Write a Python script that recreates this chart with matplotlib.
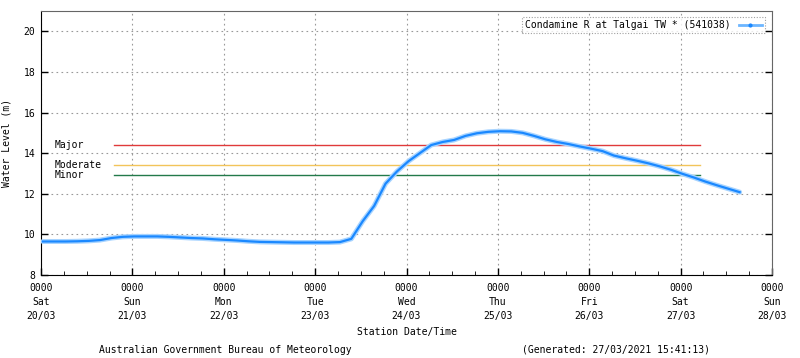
import numpy as np
import matplotlib.pyplot as plt
from matplotlib.lines import Line2D
import matplotlib.transforms as mtransforms

plt.rcParams['font.family'] = 'DejaVu Sans Mono'
FS = 7

# hours since Sat 20/03 0000, one reading every 3 hours
hours = np.arange(0.5, 184, 3)
level = [9.65, 9.65, 9.65, 9.66, 9.68, 9.72, 9.82, 9.88, 9.90, 9.90,
         9.90, 9.88, 9.85, 9.82, 9.80, 9.76, 9.73, 9.70, 9.66, 9.63,
         9.62, 9.61, 9.60, 9.60, 9.60, 9.60, 9.62, 9.78, 10.65, 11.40,
         12.50, 13.10, 13.60, 14.00, 14.40, 14.55, 14.65, 14.85, 14.98, 15.05,
         15.08, 15.07, 15.00, 14.85, 14.68, 14.55, 14.45, 14.33, 14.22, 14.10,
         13.88, 13.75, 13.63, 13.50, 13.35, 13.18, 12.98, 12.80, 12.60, 12.42,
         12.25, 12.08]

day_ticks = ['0000\nSat\n20/03', '0000\nSun\n21/03', '0000\nMon\n22/03',
             '0000\nTue\n23/03', '0000\nWed\n24/03', '0000\nThu\n25/03',
             '0000\nFri\n26/03', '0000\nSat\n27/03', '0000\nSun\n28/03']

flood_names = ['Major', 'Moderate', 'Minor']
flood_levels = [14.4, 13.4, 12.9]
flood_colors = ['#e03a3a', '#f2c45a', '#237a4a']
flood_start, flood_end = 19.2, 173.0

fig = plt.figure(figsize=(8, 3.58), dpi=100)
ax = fig.add_axes([41/800, 83/358, 731/800, 264/358])

trans = mtransforms.blended_transform_factory(ax.transAxes, ax.transData)
for name, lv, col in zip(flood_names, flood_levels, flood_colors):
    ax.plot([flood_start, flood_end], [lv, lv], color=col, lw=1, zorder=2)
    ax.text(0.019, lv, name, transform=trans, va='center', ha='left', fontsize=FS)

ax.plot(hours, level, color='#a8d4ff', lw=3.6, solid_capstyle='round',
        solid_joinstyle='round', zorder=3)
ax.plot(hours, level, color='#1a88ff', lw=1.6, solid_joinstyle='round', zorder=4)

ax.set_xlim(0, 192)
ax.set_ylim(8, 21)
ax.set_xticks(np.arange(0, 193, 24))
ax.set_xticklabels(day_ticks, linespacing=1.45)
ax.set_xticks(np.arange(0, 193, 6), minor=True)
ax.set_yticks([8, 10, 12, 14, 16, 18, 20])
ax.tick_params(axis='both', direction='in', length=5, width=1, labelsize=FS)
ax.tick_params(axis='x', which='minor', direction='in', length=3)
ax.tick_params(axis='y', right=True, pad=4)
ax.tick_params(axis='x', pad=6)
ax.grid(True, which='major', color='#999999', ls=(0, (1.5, 3)), lw=0.8)

for s in ['top', 'right']:
    ax.spines[s].set_color('#666666')
for s in ['left', 'bottom']:
    ax.spines[s].set_color('black')

ax.set_xlabel('Station Date/Time', fontsize=FS, labelpad=5)
ax.set_ylabel('Water Level (m)', fontsize=FS, labelpad=9)

handle = Line2D([], [], color='#6db6ff', lw=2, marker='.', ms=4,
                markerfacecolor='#1a88ff', markeredgecolor='#1a88ff')
leg = ax.legend([handle], ['Condamine R at Talgai TW * (541038)'], loc='upper right',
                fontsize=FS, fancybox=False, borderpad=0.3, handlelength=2.4,
                markerfirst=False, bbox_to_anchor=(0.997, 0.994))
leg.get_frame().set_edgecolor('#888888')
leg.get_frame().set_linestyle((0, (1, 1.5)))
leg.get_frame().set_linewidth(0.8)

fig.text(225/800, 1 - 350/358, 'Australian Government Bureau of Meteorology',
         ha='center', va='center', fontsize=FS)
fig.text(616/800, 1 - 350/358, '(Generated: 27/03/2021 15:41:13)',
         ha='center', va='center', fontsize=FS)

fig.savefig('out.png', dpi=100)
